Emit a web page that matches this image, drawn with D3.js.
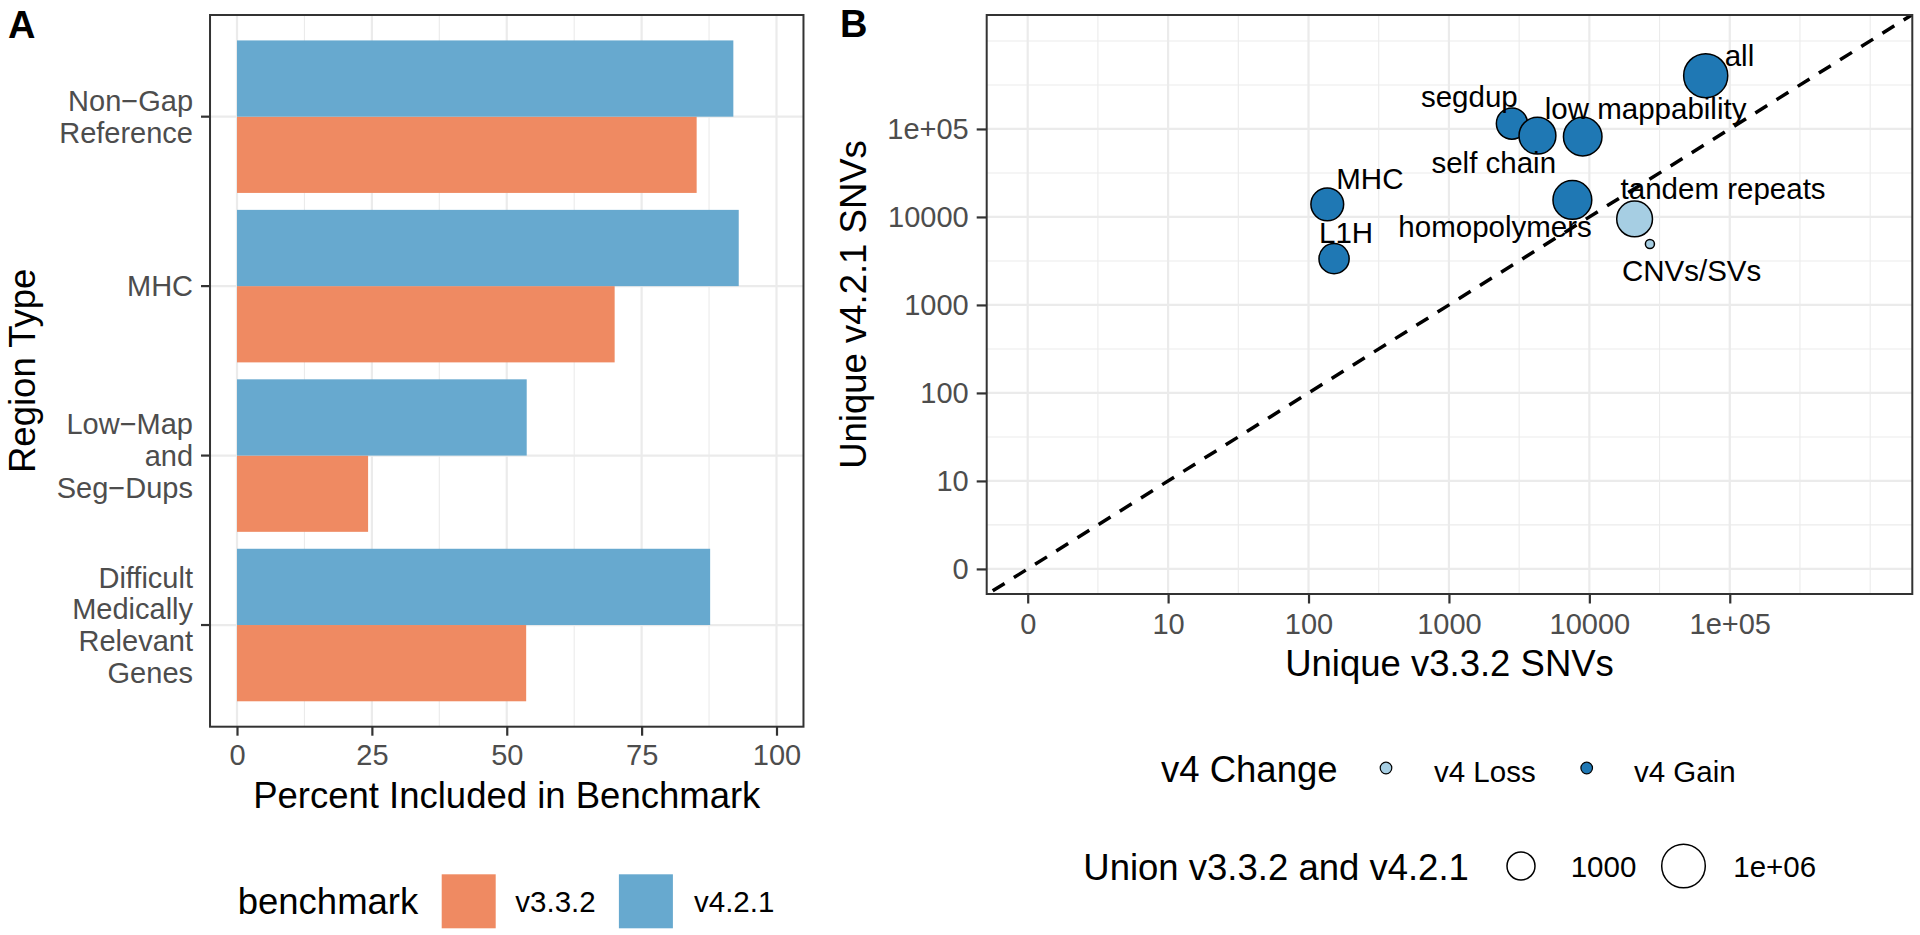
<!DOCTYPE html>
<html><head><meta charset="utf-8">
<script src="https://cdn.jsdelivr.net/npm/d3@7"></script>
<style>
html,body{margin:0;padding:0;background:#fff;}
svg{display:block;font-family:"Liberation Sans", Arial, Helvetica, sans-serif;}
</style></head><body>
<svg id="chart" width="1920" height="935"></svg>
<script>
// ---------- Panel A data ----------
const regionTypes = ["Non\u2212Gap\nReference", "MHC", "Low\u2212Map\nand\nSeg\u2212Dups", "Difficult\nMedically\nRelevant\nGenes"];
const benchmarks = ["v3.3.2", "v4.2.1"];
const pctV332 = [85.2, 70.0, 24.3, 53.6];
const pctV421 = [92.0, 93.0, 53.7, 87.7];
const pctTicks = [0, 25, 50, 75, 100];
const pctMinor = [12.5, 37.5, 62.5, 87.5];

// ---------- Panel B data ----------
const snvRegions = ["all", "segdup", "self chain", "low mappability", "homopolymers", "tandem repeats", "CNVs/SVs", "MHC", "L1H"];
const uniqueV332 = [67400, 2810, 4270, 8970, 7570, 21000, 27000, 136, 152];
const uniqueV421 = [403000, 115000, 83900, 81800, 15600, 9490, 4930, 13900, 3360];
const unionV332V421 = [1.3e6, 3200, 35000, 76000, 87000, 21500, 13, 6000, 2200];
const v4Change = ["v4 Gain", "v4 Gain", "v4 Gain", "v4 Gain", "v4 Gain", "v4 Loss", "v4 Loss", "v4 Gain", "v4 Gain"];
const changeLevels = ["v4 Loss", "v4 Gain"];
const snvTicks = [1, 10, 100, 1000, 10000, 1e5];
const snvTickLabels = ["0", "10", "100", "1000", "10000", "1e+05"];
const sizeBreaks = [1000, 1e6];
const sizeBreakLabels = ["1000", "1e+06"];

// label placement (repelled offsets from each point, px)
const labelOffsets = {
  "all": [19, -10], "segdup": [-91, -17], "self chain": [-106, 37], "low mappability": [-38, -18],
  "homopolymers": [-174, 37], "tandem repeats": [-14, -20], "CNVs/SVs": [-28, 37], "MHC": [9, -15], "L1H": [-15, -16]
};

const svg = d3.select("#chart");
const GRID = "#EBEBEB", BORDER = "#333333", TICKTXT = "#4D4D4D";
const benchColor = d3.scaleOrdinal().domain(benchmarks).range(["#EF8A62", "#67A9CF"]);
const changeColor = d3.scaleOrdinal().domain(changeLevels).range(["#A6CEE3", "#1F78B4"]);

function styleAxis(g, fs) {
  g.attr("font-family", null).attr("font-size", null);
  g.select(".domain").remove();
  g.selectAll(".tick line").attr("stroke", BORDER).attr("stroke-width", 2.2);
  g.selectAll(".tick text").attr("fill", TICKTXT).style("font-size", fs + "px");
}

// ================= PANEL A =================
const xA = d3.scaleLinear().domain([0, 100]).range([237, 776.5]);
const aTop = 15, aBot = 726.7, aLeft = xA(-5), aRight = xA(105);
const yA = d3.scaleBand().domain(regionTypes).range([aTop, aBot]).paddingInner(0.1).paddingOuter(0.15);
const yInner = d3.scaleBand().domain(["v4.2.1", "v3.3.2"]).range([0, yA.bandwidth()]);
const center = d => yA(d) + yA.bandwidth() / 2;

const gA = svg.append("g");
gA.append("rect").attr("x", aLeft).attr("y", aTop).attr("width", aRight - aLeft).attr("height", aBot - aTop).attr("fill", "#fff");
gA.selectAll("line.minor").data(pctMinor).join("line")
  .attr("x1", d => xA(d)).attr("x2", d => xA(d)).attr("y1", aTop).attr("y2", aBot)
  .attr("stroke", GRID).attr("stroke-width", 1.1);
gA.selectAll("line.majorx").data(pctTicks).join("line")
  .attr("x1", d => xA(d)).attr("x2", d => xA(d)).attr("y1", aTop).attr("y2", aBot)
  .attr("stroke", GRID).attr("stroke-width", 2.2);
gA.selectAll("line.majory").data(regionTypes).join("line")
  .attr("x1", aLeft).attr("x2", aRight).attr("y1", d => center(d)).attr("y2", d => center(d))
  .attr("stroke", GRID).attr("stroke-width", 2.2);

const barData = [];
regionTypes.forEach((r, i) => {
  barData.push({ region: r, bench: "v3.3.2", value: pctV332[i] });
  barData.push({ region: r, bench: "v4.2.1", value: pctV421[i] });
});
gA.selectAll("rect.bar").data(barData).join("rect")
  .attr("x", xA(0)).attr("y", d => yA(d.region) + yInner(d.bench))
  .attr("width", d => xA(d.value) - xA(0)).attr("height", yInner.bandwidth())
  .attr("fill", d => benchColor(d.bench));

gA.append("rect").attr("x", aLeft).attr("y", aTop).attr("width", aRight - aLeft).attr("height", aBot - aTop)
  .attr("fill", "none").attr("stroke", BORDER).attr("stroke-width", 2);

const axA = gA.append("g").attr("transform", `translate(0,${aBot})`)
  .call(d3.axisBottom(xA).tickValues(pctTicks).tickSize(9).tickPadding(9).tickFormat(d3.format("d")));
styleAxis(axA, 29);

const ayA = gA.append("g").attr("transform", `translate(${aLeft},0)`)
  .call(d3.axisLeft(yA).tickSize(9).tickFormat(() => ""));
styleAxis(ayA, 29);
ayA.selectAll(".tick text").remove();
regionTypes.forEach(r => {
  const lines = r.split("\n"), n = lines.length, c = center(r);
  const t = gA.append("text").attr("text-anchor", "end").attr("fill", TICKTXT).style("font-size", "29px");
  lines.forEach((ln, i) => {
    t.append("tspan").attr("x", aLeft - 17).attr("y", c + (i - (n - 1) / 2) * 31.7 + 10.3).text(ln);
  });
});

gA.append("text").attr("x", (aLeft + aRight) / 2).attr("y", 808.3).attr("text-anchor", "middle")
  .style("font-size", "36.5px").text("Percent Included in Benchmark");
gA.append("text").attr("transform", `translate(35,${(aTop + aBot) / 2}) rotate(-90)`).attr("text-anchor", "middle")
  .style("font-size", "36.5px").text("Region Type");
svg.append("text").attr("x", 8).attr("y", 38).style("font-size", "38px").style("font-weight", "bold").text("A");

// legend A
const legA = svg.append("g");
legA.append("text").attr("x", 237.7).attr("y", 914).style("font-size", "36.5px").text("benchmark");
const legAx = [441.7, 618.9], legAtx = [515.3, 694];
benchmarks.forEach((b, i) => {
  legA.append("rect").attr("x", legAx[i]).attr("y", 874.3).attr("width", 54).attr("height", 54).attr("fill", benchColor(b));
  legA.append("text").attr("x", legAtx[i]).attr("y", 912).style("font-size", "29.5px").text(b);
});

// ================= PANEL B =================
const bLeft = 986.7, bRight = 1912.3, bTop = 15, bBot = 594;
const xB = d3.scaleLog().domain([10 ** -0.292, 10 ** 6.3]).range([bLeft, bRight]);
const yB = d3.scaleLog().domain([10 ** -0.285, 10 ** 6.295]).range([bBot, bTop]);
const rB = d3.scaleRadial().domain([3, 6]).range([14, 21.8]);
const snvMinor = [0.5, 1.5, 2.5, 3.5, 4.5, 5.5, 6].map(u => 10 ** u);

const gB = svg.append("g");
gB.append("defs").append("clipPath").attr("id", "clipB").append("rect")
  .attr("x", bLeft).attr("y", bTop).attr("width", bRight - bLeft).attr("height", bBot - bTop);
gB.append("rect").attr("x", bLeft).attr("y", bTop).attr("width", bRight - bLeft).attr("height", bBot - bTop).attr("fill", "#fff");
gB.selectAll("line.mx").data(snvMinor).join("line")
  .attr("x1", d => xB(d)).attr("x2", d => xB(d)).attr("y1", bTop).attr("y2", bBot).attr("stroke", GRID).attr("stroke-width", 1.1);
gB.selectAll("line.my").data(snvMinor).join("line")
  .attr("y1", d => yB(d)).attr("y2", d => yB(d)).attr("x1", bLeft).attr("x2", bRight).attr("stroke", GRID).attr("stroke-width", 1.1);
gB.selectAll("line.Mx").data(snvTicks).join("line")
  .attr("x1", d => xB(d)).attr("x2", d => xB(d)).attr("y1", bTop).attr("y2", bBot).attr("stroke", GRID).attr("stroke-width", 2.2);
gB.selectAll("line.My").data(snvTicks).join("line")
  .attr("y1", d => yB(d)).attr("y2", d => yB(d)).attr("x1", bLeft).attr("x2", bRight).attr("stroke", GRID).attr("stroke-width", 2.2);

// identity line
gB.append("line").attr("clip-path", "url(#clipB)")
  .attr("x1", xB(10 ** -0.4)).attr("y1", yB(10 ** -0.4)).attr("x2", xB(10 ** 6.5)).attr("y2", yB(10 ** 6.5))
  .attr("stroke", "#000").attr("stroke-width", 3.5).attr("stroke-dasharray", "14,11");

const pts = snvRegions.map((name, i) => ({
  name, x: uniqueV332[i], y: uniqueV421[i], u: unionV332V421[i], ch: v4Change[i]
}));
gB.selectAll("circle.pt").data(pts).join("circle")
  .attr("cx", d => xB(d.x)).attr("cy", d => yB(d.y)).attr("r", d => rB(Math.log10(d.u)))
  .attr("fill", d => changeColor(d.ch)).attr("stroke", "#000").attr("stroke-width", 1.5);
gB.selectAll("text.lbl").data(pts).join("text")
  .attr("x", d => xB(d.x) + labelOffsets[d.name][0]).attr("y", d => yB(d.y) + labelOffsets[d.name][1])
  .style("font-size", "29.5px").attr("fill", "#000").text(d => d.name);

gB.append("rect").attr("x", bLeft).attr("y", bTop).attr("width", bRight - bLeft).attr("height", bBot - bTop)
  .attr("fill", "none").attr("stroke", BORDER).attr("stroke-width", 2);

const axB = gB.append("g").attr("transform", `translate(0,${bBot})`)
  .call(d3.axisBottom(xB).tickValues(snvTicks).tickSize(9.5).tickPadding(9.5).tickFormat((d, i) => snvTickLabels[i]));
styleAxis(axB, 29);
const ayB = gB.append("g").attr("transform", `translate(${bLeft},0)`)
  .call(d3.axisLeft(yB).tickValues(snvTicks).tickSize(10).tickPadding(8).tickFormat((d, i) => snvTickLabels[i]));
styleAxis(ayB, 29);

gB.append("text").attr("x", (bLeft + bRight) / 2).attr("y", 675.7).attr("text-anchor", "middle")
  .style("font-size", "36.5px").text("Unique v3.3.2 SNVs");
gB.append("text").attr("transform", `translate(866,${(bTop + bBot) / 2}) rotate(-90)`).attr("text-anchor", "middle")
  .style("font-size", "36.5px").text("Unique v4.2.1 SNVs");
svg.append("text").attr("x", 840).attr("y", 37).style("font-size", "38px").style("font-weight", "bold").text("B");

// legend B: change
const legB = svg.append("g");
const chY = 768;
legB.append("text").attr("x", 1161).attr("y", chY + 14).style("font-size", "36.5px").text("v4 Change");
const chPx = [1386, 1586.7], chTx = [1434, 1634];
changeLevels.forEach((c, i) => {
  legB.append("circle").attr("cx", chPx[i]).attr("cy", chY).attr("r", 5.8)
    .attr("fill", changeColor(c)).attr("stroke", "#000").attr("stroke-width", 1.2);
  legB.append("text").attr("x", chTx[i]).attr("y", chY + 13.5).style("font-size", "29.5px").text(c);
});
// legend B: size
const szY = 866;
legB.append("text").attr("x", 1083.3).attr("y", szY + 14).style("font-size", "36.5px").text("Union v3.3.2 and v4.2.1");
const szPx = [1521, 1683.5], szTx = [1570.7, 1733.3];
sizeBreaks.forEach((s, i) => {
  legB.append("circle").attr("cx", szPx[i]).attr("cy", szY).attr("r", rB(Math.log10(s)))
    .attr("fill", "#fff").attr("stroke", "#000").attr("stroke-width", 1.5);
  legB.append("text").attr("x", szTx[i]).attr("y", szY + 11).style("font-size", "29.5px").text(sizeBreakLabels[i]);
});
</script>
</body></html>
